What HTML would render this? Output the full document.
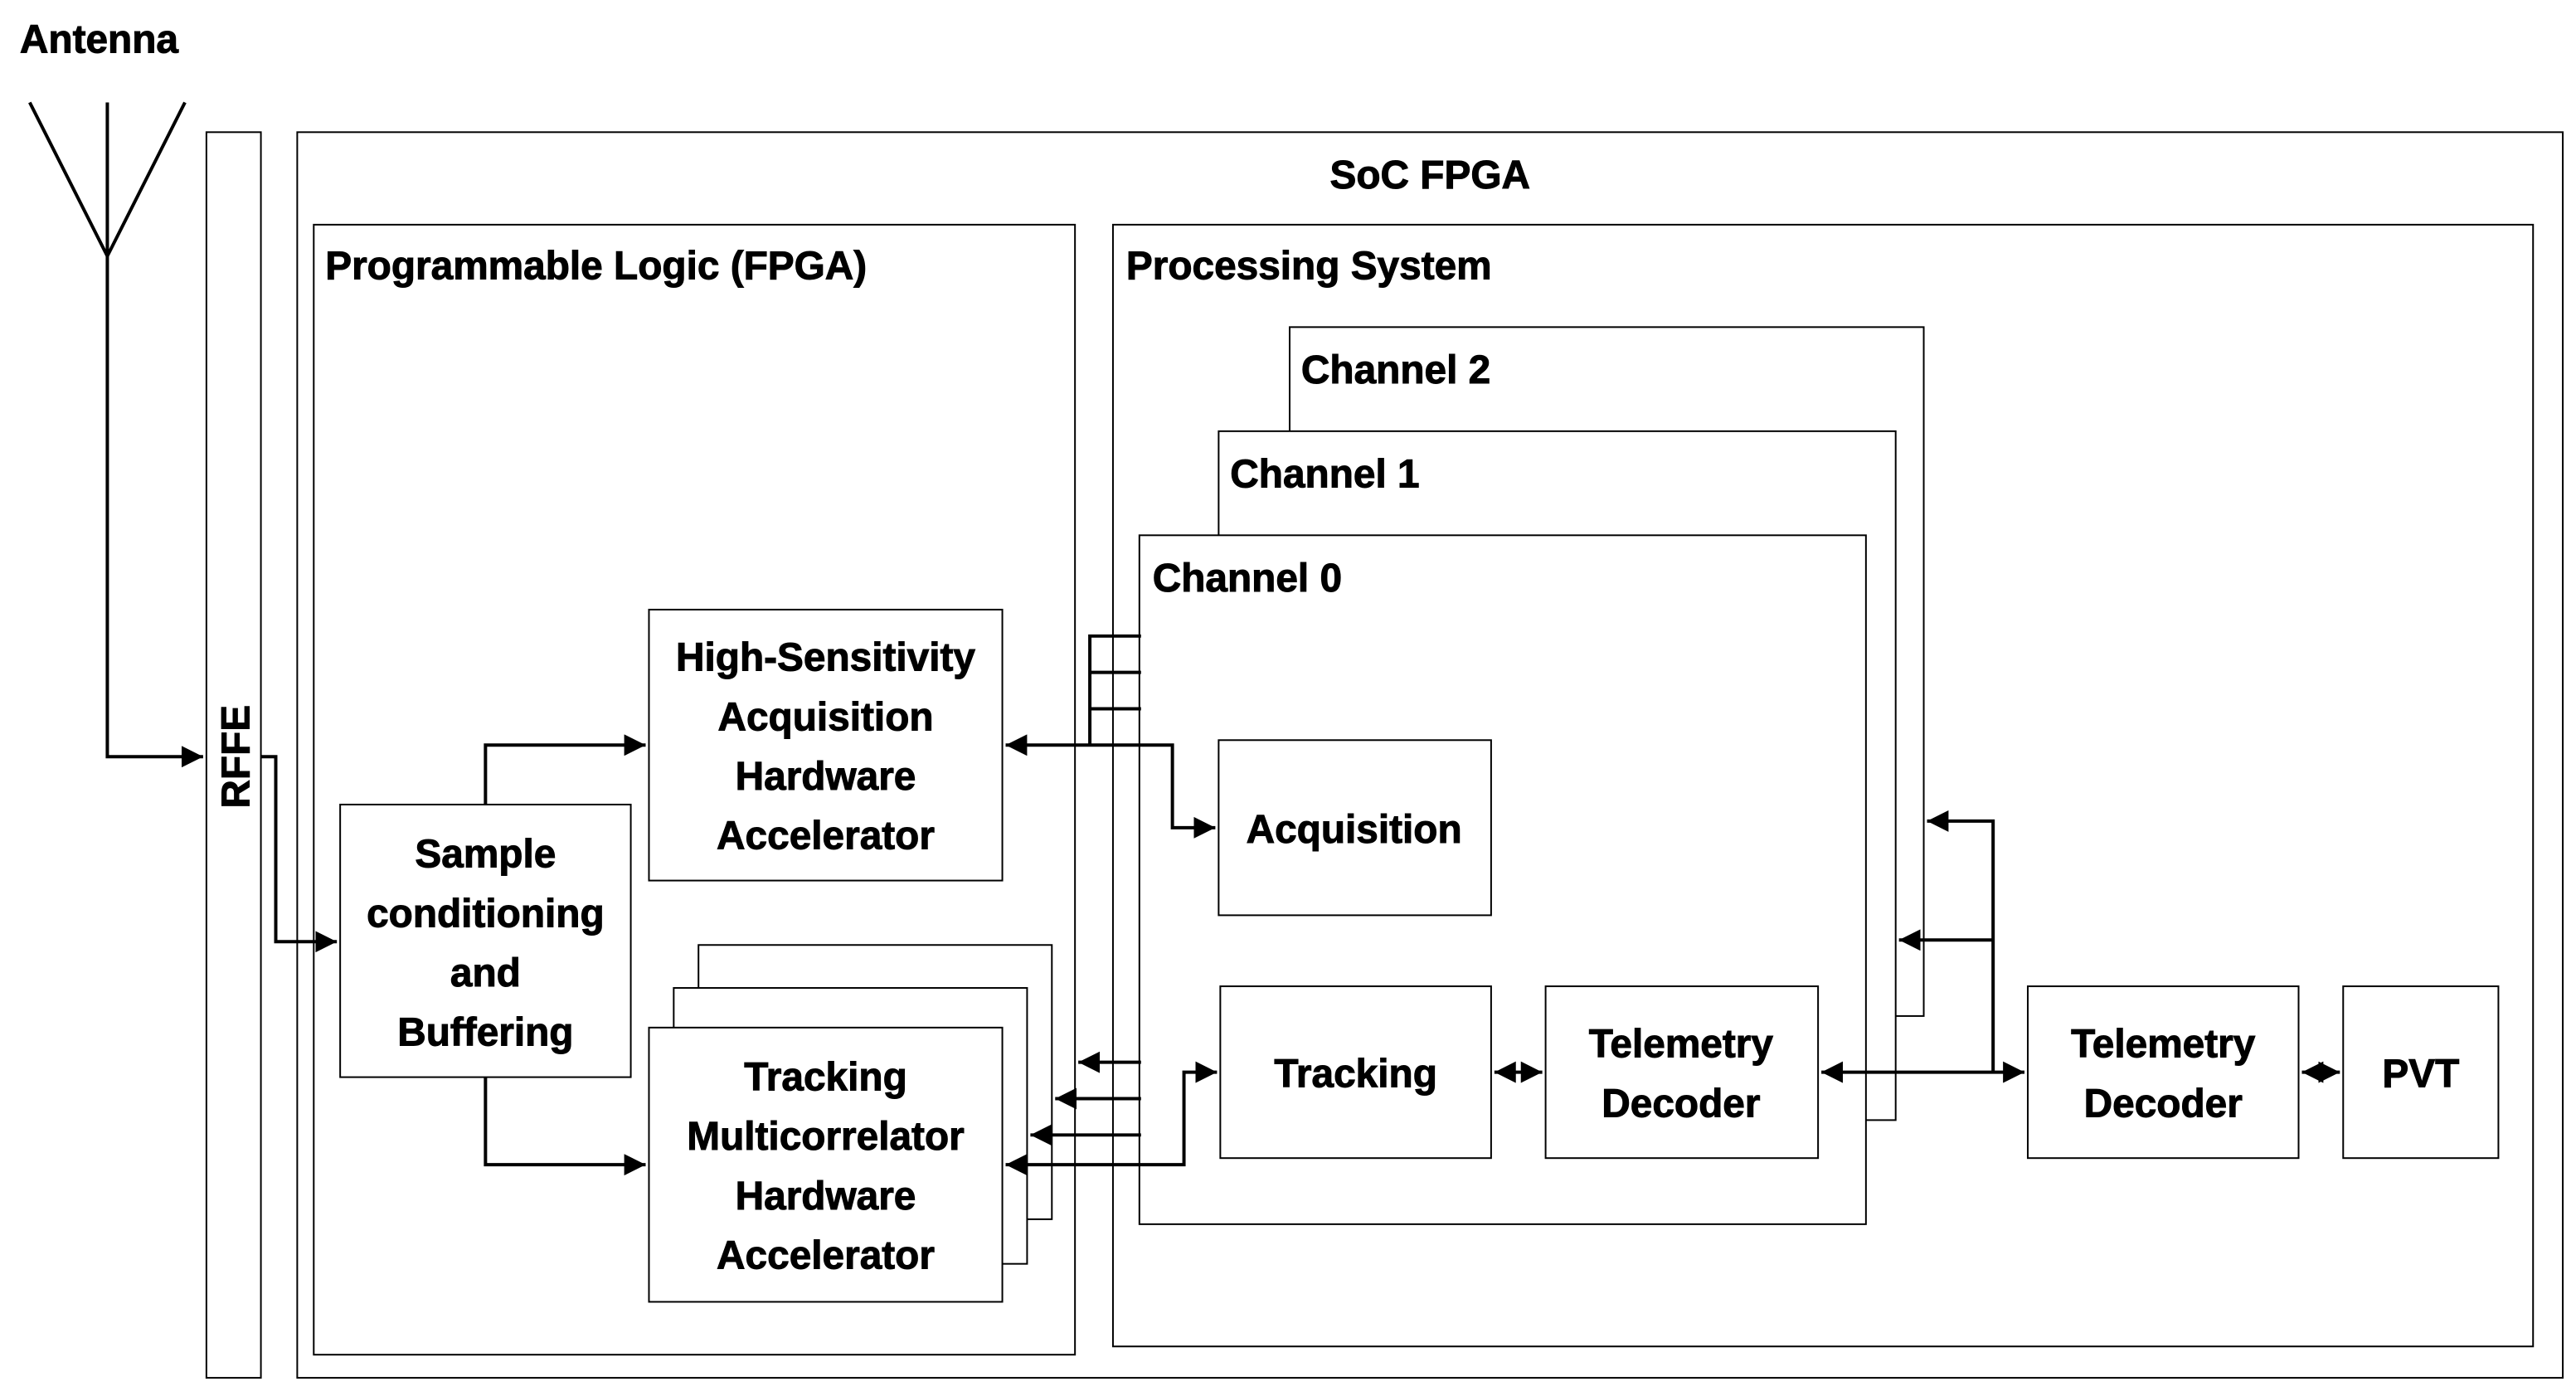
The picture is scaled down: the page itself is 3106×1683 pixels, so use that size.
<!DOCTYPE html>
<html><head><meta charset="utf-8"><style>
html,body{margin:0;padding:0;background:#fff;}
svg{display:block;}
text{font-family:"Liberation Sans",sans-serif;font-weight:bold;fill:#000;stroke:#000;stroke-width:0.5;}
</style></head><body>
<svg width="3106" height="1683" viewBox="0 0 1560 845" preserveAspectRatio="none" xmlns="http://www.w3.org/2000/svg">
<defs>
<marker id="a" viewBox="0 0 10 10" refX="10" refY="5" markerWidth="6.5" markerHeight="6.5" orient="auto-start-reverse" markerUnits="strokeWidth"><path d="M0,0L10,5L0,10z" fill="#000"/></marker>
</defs>
<g fill="#fff" stroke="#000" stroke-width="1">
<rect x="125" y="80" width="33" height="754"/>
<rect x="180" y="80" width="1372" height="754"/>
<rect x="190" y="136" width="461" height="684"/>
<rect x="674" y="136" width="860" height="679"/>
<rect x="781" y="198" width="384" height="417"/>
<rect x="738" y="261" width="410" height="417"/>
<rect x="690" y="324" width="440" height="417"/>
<rect x="206" y="487" width="176" height="165"/>
<rect x="393" y="369" width="214" height="164"/>
<rect x="423" y="572" width="214" height="166"/>
<rect x="408" y="598" width="214" height="167"/>
<rect x="393" y="622" width="214" height="166"/>
<rect x="738" y="448" width="165" height="106"/>
<rect x="739" y="597" width="164" height="104"/>
<rect x="936" y="597" width="165" height="104"/>
<rect x="1228" y="597" width="164" height="104"/>
<rect x="1419" y="597" width="94" height="104"/>
</g>
<g fill="none" stroke="#000" stroke-width="2">
<path d="M18,62L65,155L112,62M65,62V155"/>
<path d="M65,155V458H123" marker-end="url(#a)"/>
<path d="M158,458H167V570H204" marker-end="url(#a)"/>
<path d="M294,487V451H391" marker-end="url(#a)"/>
<path d="M294,652V705H391" marker-end="url(#a)"/>
<path d="M660,451V385H691M660,407H691M660,429H691"/>
<path d="M609,451H710V501H736" marker-start="url(#a)" marker-end="url(#a)"/>
<path d="M691,643H653" marker-end="url(#a)"/>
<path d="M691,665H639" marker-end="url(#a)"/>
<path d="M691,687H624" marker-end="url(#a)"/>
<path d="M609,705H717V649H737" marker-start="url(#a)" marker-end="url(#a)"/>
<path d="M905,649H934" marker-start="url(#a)" marker-end="url(#a)"/>
<path d="M1103,649H1226" marker-start="url(#a)" marker-end="url(#a)"/>
<path d="M1207,649V497H1167" marker-end="url(#a)"/>
<path d="M1207,569H1150" marker-end="url(#a)"/>
<path d="M1394,649H1417" marker-start="url(#a)" marker-end="url(#a)"/>
</g>
<g font-size="24">
<text x="12" y="32">Antenna</text>
<text x="866" y="114" text-anchor="middle">SoC FPGA</text>
<text x="197" y="169">Programmable Logic (FPGA)</text>
<text x="682" y="169">Processing System</text>
<text x="788" y="232">Channel 2</text>
<text x="745" y="295">Channel 1</text>
<text x="698" y="358">Channel 0</text>
<text transform="translate(151,458) rotate(-90)" text-anchor="middle">RFFE</text>
<g text-anchor="middle">
<text x="294" y="525">Sample</text><text x="294" y="561">conditioning</text><text x="294" y="597">and</text><text x="294" y="633">Buffering</text>
<text x="500" y="406">High-Sensitivity</text><text x="500" y="442">Acquisition</text><text x="500" y="478">Hardware</text><text x="500" y="514">Accelerator</text>
<text x="500" y="660">Tracking</text><text x="500" y="696">Multicorrelator</text><text x="500" y="732">Hardware</text><text x="500" y="768">Accelerator</text>
<text x="820" y="510">Acquisition</text>
<text x="821" y="658">Tracking</text>
<text x="1018" y="640">Telemetry</text><text x="1018" y="676">Decoder</text>
<text x="1310" y="640">Telemetry</text><text x="1310" y="676">Decoder</text>
<text x="1466" y="658">PVT</text>
</g>
</g>
</svg>
</body></html>
